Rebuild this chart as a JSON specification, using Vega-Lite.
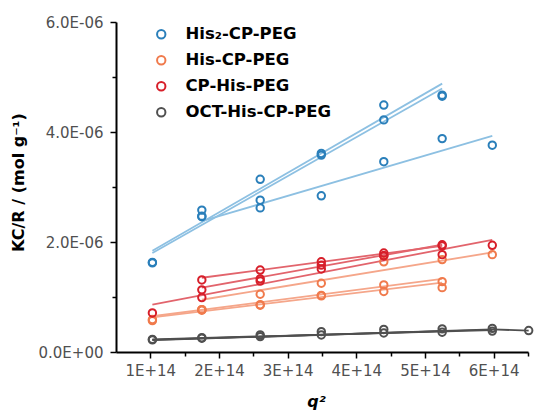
{
  "$schema": "https://vega.github.io/schema/vega-lite/v6.json",
  "autosize": "none",
  "width": 412,
  "height": 330,
  "padding": {"left": 116, "top": 22, "right": 8, "bottom": 62},
  "background": "white",
  "config": {"view": {"stroke": null}, "font": "DejaVu Sans"},
  "datasets": {
    "pts": [
      {"group": "His₂-CP-PEG", "run": "B1", "q2": 1.03e14, "kcr": 1.63e-6},
      {"group": "His₂-CP-PEG", "run": "B1", "q2": 1.75e14, "kcr": 2.58e-6},
      {"group": "His₂-CP-PEG", "run": "B1", "q2": 2.60e14, "kcr": 3.14e-6},
      {"group": "His₂-CP-PEG", "run": "B1", "q2": 3.49e14, "kcr": 3.61e-6},
      {"group": "His₂-CP-PEG", "run": "B1", "q2": 4.40e14, "kcr": 4.49e-6},
      {"group": "His₂-CP-PEG", "run": "B1", "q2": 5.25e14, "kcr": 4.67e-6},
      {"group": "His₂-CP-PEG", "run": "B2", "q2": 1.03e14, "kcr": 1.62e-6},
      {"group": "His₂-CP-PEG", "run": "B2", "q2": 1.75e14, "kcr": 2.46e-6},
      {"group": "His₂-CP-PEG", "run": "B2", "q2": 2.60e14, "kcr": 2.76e-6},
      {"group": "His₂-CP-PEG", "run": "B2", "q2": 3.49e14, "kcr": 3.58e-6},
      {"group": "His₂-CP-PEG", "run": "B2", "q2": 4.40e14, "kcr": 4.22e-6},
      {"group": "His₂-CP-PEG", "run": "B2", "q2": 5.25e14, "kcr": 4.65e-6},
      {"group": "His₂-CP-PEG", "run": "B3", "q2": 1.75e14, "kcr": 2.47e-6},
      {"group": "His₂-CP-PEG", "run": "B3", "q2": 2.60e14, "kcr": 2.62e-6},
      {"group": "His₂-CP-PEG", "run": "B3", "q2": 3.49e14, "kcr": 2.84e-6},
      {"group": "His₂-CP-PEG", "run": "B3", "q2": 4.40e14, "kcr": 3.46e-6},
      {"group": "His₂-CP-PEG", "run": "B3", "q2": 5.25e14, "kcr": 3.88e-6},
      {"group": "His₂-CP-PEG", "run": "B3", "q2": 5.98e14, "kcr": 3.76e-6},
      {"group": "His-CP-PEG", "run": "O1", "q2": 1.75e14, "kcr": 0.77e-6},
      {"group": "His-CP-PEG", "run": "O1", "q2": 2.60e14, "kcr": 1.05e-6},
      {"group": "His-CP-PEG", "run": "O1", "q2": 3.49e14, "kcr": 1.25e-6},
      {"group": "His-CP-PEG", "run": "O1", "q2": 4.40e14, "kcr": 1.64e-6},
      {"group": "His-CP-PEG", "run": "O1", "q2": 5.25e14, "kcr": 1.68e-6},
      {"group": "His-CP-PEG", "run": "O1", "q2": 5.98e14, "kcr": 1.77e-6},
      {"group": "His-CP-PEG", "run": "O2", "q2": 1.03e14, "kcr": 0.57e-6},
      {"group": "His-CP-PEG", "run": "O2", "q2": 1.75e14, "kcr": 0.77e-6},
      {"group": "His-CP-PEG", "run": "O2", "q2": 2.60e14, "kcr": 0.86e-6},
      {"group": "His-CP-PEG", "run": "O2", "q2": 3.49e14, "kcr": 1.03e-6},
      {"group": "His-CP-PEG", "run": "O2", "q2": 4.40e14, "kcr": 1.22e-6},
      {"group": "His-CP-PEG", "run": "O2", "q2": 5.25e14, "kcr": 1.28e-6},
      {"group": "His-CP-PEG", "run": "O3", "q2": 1.03e14, "kcr": 0.59e-6},
      {"group": "His-CP-PEG", "run": "O3", "q2": 1.75e14, "kcr": 0.76e-6},
      {"group": "His-CP-PEG", "run": "O3", "q2": 2.60e14, "kcr": 0.85e-6},
      {"group": "His-CP-PEG", "run": "O3", "q2": 3.49e14, "kcr": 1.02e-6},
      {"group": "His-CP-PEG", "run": "O3", "q2": 4.40e14, "kcr": 1.10e-6},
      {"group": "His-CP-PEG", "run": "O3", "q2": 5.25e14, "kcr": 1.17e-6},
      {"group": "CP-His-PEG", "run": "R1", "q2": 1.03e14, "kcr": 0.71e-6},
      {"group": "CP-His-PEG", "run": "R1", "q2": 1.75e14, "kcr": 0.99e-6},
      {"group": "CP-His-PEG", "run": "R1", "q2": 2.60e14, "kcr": 1.29e-6},
      {"group": "CP-His-PEG", "run": "R1", "q2": 3.49e14, "kcr": 1.51e-6},
      {"group": "CP-His-PEG", "run": "R1", "q2": 4.40e14, "kcr": 1.75e-6},
      {"group": "CP-His-PEG", "run": "R1", "q2": 5.25e14, "kcr": 1.77e-6},
      {"group": "CP-His-PEG", "run": "R1", "q2": 5.98e14, "kcr": 1.94e-6},
      {"group": "CP-His-PEG", "run": "R2", "q2": 1.75e14, "kcr": 1.31e-6},
      {"group": "CP-His-PEG", "run": "R2", "q2": 2.60e14, "kcr": 1.49e-6},
      {"group": "CP-His-PEG", "run": "R2", "q2": 3.49e14, "kcr": 1.64e-6},
      {"group": "CP-His-PEG", "run": "R2", "q2": 4.40e14, "kcr": 1.80e-6},
      {"group": "CP-His-PEG", "run": "R2", "q2": 5.25e14, "kcr": 1.95e-6},
      {"group": "CP-His-PEG", "run": "R3", "q2": 1.75e14, "kcr": 1.13e-6},
      {"group": "CP-His-PEG", "run": "R3", "q2": 2.60e14, "kcr": 1.33e-6},
      {"group": "CP-His-PEG", "run": "R3", "q2": 3.49e14, "kcr": 1.58e-6},
      {"group": "CP-His-PEG", "run": "R3", "q2": 4.40e14, "kcr": 1.75e-6},
      {"group": "CP-His-PEG", "run": "R3", "q2": 5.25e14, "kcr": 1.93e-6},
      {"group": "OCT-His-CP-PEG", "run": "G1", "q2": 1.03e14, "kcr": 0.22e-6},
      {"group": "OCT-His-CP-PEG", "run": "G1", "q2": 1.75e14, "kcr": 0.25e-6},
      {"group": "OCT-His-CP-PEG", "run": "G1", "q2": 2.60e14, "kcr": 0.31e-6},
      {"group": "OCT-His-CP-PEG", "run": "G1", "q2": 3.49e14, "kcr": 0.37e-6},
      {"group": "OCT-His-CP-PEG", "run": "G1", "q2": 4.40e14, "kcr": 0.41e-6},
      {"group": "OCT-His-CP-PEG", "run": "G1", "q2": 5.25e14, "kcr": 0.42e-6},
      {"group": "OCT-His-CP-PEG", "run": "G1", "q2": 5.98e14, "kcr": 0.43e-6},
      {"group": "OCT-His-CP-PEG", "run": "G1", "q2": 6.51e14, "kcr": 0.39e-6},
      {"group": "OCT-His-CP-PEG", "run": "G2", "q2": 1.03e14, "kcr": 0.23e-6},
      {"group": "OCT-His-CP-PEG", "run": "G2", "q2": 1.75e14, "kcr": 0.26e-6},
      {"group": "OCT-His-CP-PEG", "run": "G2", "q2": 2.60e14, "kcr": 0.28e-6},
      {"group": "OCT-His-CP-PEG", "run": "G2", "q2": 3.49e14, "kcr": 0.31e-6},
      {"group": "OCT-His-CP-PEG", "run": "G2", "q2": 4.40e14, "kcr": 0.345e-6},
      {"group": "OCT-His-CP-PEG", "run": "G2", "q2": 5.25e14, "kcr": 0.36e-6},
      {"group": "OCT-His-CP-PEG", "run": "G2", "q2": 5.98e14, "kcr": 0.38e-6}
    ],
    "fits": [
      {"group": "His₂-CP-PEG", "run": "B1", "q2": 1.03e14, "kcr": 1.84e-6},
      {"group": "His₂-CP-PEG", "run": "B1", "q2": 5.25e14, "kcr": 4.88e-6},
      {"group": "His₂-CP-PEG", "run": "B2", "q2": 1.03e14, "kcr": 1.80e-6},
      {"group": "His₂-CP-PEG", "run": "B2", "q2": 5.25e14, "kcr": 4.79e-6},
      {"group": "His₂-CP-PEG", "run": "B3", "q2": 1.75e14, "kcr": 2.38e-6},
      {"group": "His₂-CP-PEG", "run": "B3", "q2": 5.98e14, "kcr": 3.93e-6},
      {"group": "His-CP-PEG", "run": "O1", "q2": 1.75e14, "kcr": 0.95e-6},
      {"group": "His-CP-PEG", "run": "O1", "q2": 5.98e14, "kcr": 1.81e-6},
      {"group": "His-CP-PEG", "run": "O2", "q2": 1.03e14, "kcr": 0.65e-6},
      {"group": "His-CP-PEG", "run": "O2", "q2": 5.25e14, "kcr": 1.33e-6},
      {"group": "His-CP-PEG", "run": "O3", "q2": 1.03e14, "kcr": 0.63e-6},
      {"group": "His-CP-PEG", "run": "O3", "q2": 5.25e14, "kcr": 1.26e-6},
      {"group": "CP-His-PEG", "run": "R1", "q2": 1.03e14, "kcr": 0.86e-6},
      {"group": "CP-His-PEG", "run": "R1", "q2": 5.98e14, "kcr": 2.04e-6},
      {"group": "CP-His-PEG", "run": "R2", "q2": 1.75e14, "kcr": 1.35e-6},
      {"group": "CP-His-PEG", "run": "R2", "q2": 5.25e14, "kcr": 1.93e-6},
      {"group": "CP-His-PEG", "run": "R3", "q2": 1.75e14, "kcr": 1.17e-6},
      {"group": "CP-His-PEG", "run": "R3", "q2": 5.25e14, "kcr": 1.95e-6},
      {"group": "OCT-His-CP-PEG", "run": "G1", "q2": 1.03e14, "kcr": 0.22e-6},
      {"group": "OCT-His-CP-PEG", "run": "G1", "q2": 5.98e14, "kcr": 0.41e-6},
      {"group": "OCT-His-CP-PEG", "run": "G1", "q2": 6.51e14, "kcr": 0.39e-6},
      {"group": "OCT-His-CP-PEG", "run": "G2", "q2": 1.03e14, "kcr": 0.23e-6},
      {"group": "OCT-His-CP-PEG", "run": "G2", "q2": 5.98e14, "kcr": 0.40e-6},
      {"group": "OCT-His-CP-PEG", "run": "G3", "q2": 1.03e14, "kcr": 0.215e-6},
      {"group": "OCT-His-CP-PEG", "run": "G3", "q2": 5.25e14, "kcr": 0.38e-6}
    ]
  },
  "layer": [
    {
      "data": {"name": "fits"},
      "mark": {"type": "line", "strokeWidth": 1.8},
      "encoding": {
        "x": {"field": "q2", "type": "quantitative", "scale": {"domain": [0.5e14, 6.5e14], "nice": false, "zero": false}, "axis": null},
        "y": {"field": "kcr", "type": "quantitative", "scale": {"domain": [0, 6e-6], "nice": false}, "axis": null},
        "detail": {"field": "run"},
        "color": {
          "field": "group", "type": "nominal", "legend": null,
          "scale": {"domain": ["His₂-CP-PEG", "His-CP-PEG", "CP-His-PEG", "OCT-His-CP-PEG"], "range": ["#8dc0e2", "#f5a68a", "#e2646c", "#4f4f4f"]}
        },
        "strokeWidth": {
          "field": "group", "type": "nominal", "legend": null,
          "scale": {"domain": ["His₂-CP-PEG", "His-CP-PEG", "CP-His-PEG", "OCT-His-CP-PEG"], "range": [1.8, 1.8, 1.8, 2.4]}
        }
      }
    },
    {
      "data": {"name": "pts"},
      "mark": {"type": "point", "shape": "circle", "filled": false, "strokeWidth": 2, "size": 55, "opacity": 1},
      "encoding": {
        "x": {
          "field": "q2", "type": "quantitative",
          "axis": {
            "orient": "bottom", "values": [1e14, 2e14, 3e14, 4e14, 5e14, 6e14],
            "labelExpr": "format(datum.value / 1e14, '.0f') + 'E+14'",
            "title": "q²", "titleFont": "DejaVu Sans", "titleFontSize": 16, "titleFontWeight": "bold", "titleFontStyle": "italic", "titleColor": "#000",
            "titleX": 200, "titleY": 54, "titleBaseline": "alphabetic", "titleAlign": "center",
            "labelFont": "DejaVu Sans", "labelFontSize": 15, "labelColor": "#505050", "labelPadding": 5,
            "domainColor": "#000", "domainWidth": 2, "tickColor": "#000", "tickWidth": 1.5, "tickSize": 6, "grid": false
          }
        },
        "y": {
          "field": "kcr", "type": "quantitative",
          "axis": {
            "orient": "left", "values": [0, 2e-6, 4e-6, 6e-6],
            "labelExpr": "datum.value == 0 ? '0.0E+00' : format(datum.value * 1e6, '.1f') + 'E-06'",
            "title": "KC/R / (mol g⁻¹)", "titleFont": "DejaVu Sans", "titleFontSize": 16, "titleFontWeight": "bold", "titleColor": "#000",
            "titleX": -98, "titleY": 160, "titleAngle": 270, "titleBaseline": "middle", "titleAlign": "center",
            "labelFont": "DejaVu Sans", "labelFontSize": 15, "labelColor": "#505050", "labelPadding": 7,
            "domainColor": "#000", "domainWidth": 2, "tickColor": "#000", "tickWidth": 1.5, "tickSize": 6, "grid": false
          }
        },
        "color": {
          "field": "group", "type": "nominal",
          "scale": {"domain": ["His₂-CP-PEG", "His-CP-PEG", "CP-His-PEG", "OCT-His-CP-PEG"], "range": ["#2a7fba", "#f07a4c", "#d71f2a", "#505050"]},
          "legend": {
            "title": null, "orient": "none", "legendX": 37, "legendY": 4, "padding": 0,
            "labelFont": "DejaVu Sans", "labelFontSize": 16.5, "labelFontWeight": "bold", "labelColor": "#000",
            "labelOffset": 16, "rowPadding": 9, "symbolSize": 70, "symbolStrokeWidth": 2, "symbolType": "circle"
          }
        }
      }
    },
    {
      "data": {"name": "pts"},
      "mark": {"type": "point", "opacity": 0},
      "encoding": {
        "x": {
          "field": "q2", "type": "quantitative",
          "axis": {"orient": "bottom", "values": [1.5e14, 2.5e14, 3.5e14, 4.5e14, 5.5e14, 6.5e14], "labels": false, "domain": false, "title": null, "grid": false, "tickColor": "#000", "tickWidth": 1.5, "tickSize": 4}
        },
        "y": {
          "field": "kcr", "type": "quantitative",
          "axis": {"orient": "left", "values": [1e-6, 3e-6, 5e-6], "labels": false, "domain": false, "title": null, "grid": false, "tickColor": "#000", "tickWidth": 1.5, "tickSize": 4}
        }
      }
    }
  ],
  "resolve": {"scale": {"color": "independent", "strokeWidth": "independent"}, "axis": {"x": "independent", "y": "independent"}}
}
